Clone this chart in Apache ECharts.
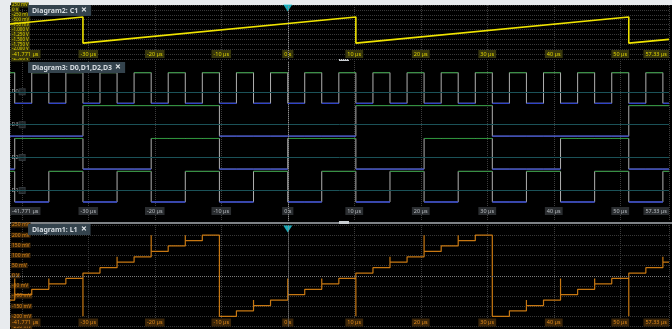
<!DOCTYPE html>
<html>
<head>
<meta charset="utf-8">
<script src="https://cdn.jsdelivr.net/npm/echarts@6.0.0/dist/echarts.min.js"></script>
<style>
html, body { margin: 0; padding: 0; background: #e8ebee; }
#panel { position: absolute; left: 10px; top: 5px; width: 662px; height: 324px; background: #000; }
#scope { position: absolute; left: 0; top: 0; width: 672px; height: 329px; }
</style>
</head>
<body>
<div id="panel"></div>
<div id="scope"></div>
<script>
var tMin = -41.771, tMax = 57.33;

// counter clock edges in µs
var edgeTimes = [-41.06, -38.50, -35.93, -33.37, -30.80, -28.24, -25.67, -23.11, -20.54, -17.98,
	-15.41, -12.85, -10.28, -7.72, -5.15, -2.59, 0.00, 2.55, 5.11, 7.68,
	10.24, 12.81, 15.37, 17.94, 20.50, 23.07, 25.63, 28.20, 30.76, 33.33,
	35.89, 38.46, 41.02, 43.59, 46.15, 48.72, 51.28, 53.85, 56.41];

// logic levels after each edge (value before first edge in *Start)
var d0Start = 1;
var d0Levels = [0,1,0,1,0,1,0,1,0,1,0,1,0,1,0,1,0,1,0,1,0,1,0,1,0,1,0,1,0,1,0,1,0,1,0,1,0,1,0];
var d1Start = 1;
var d1Levels = [0,0,1,1,0,0,1,1,0,0,1,1,0,0,1,1,0,0,1,1,0,0,1,1,0,0,1,1,0,0,1,1,0,0,1,1,0,0,1];
var d2Start = 0;
var d2Levels = [1,1,1,1,0,0,0,0,1,1,1,1,0,0,0,0,1,1,1,1,0,0,0,0,1,1,1,1,0,0,0,0,1,1,1,1,0,0,0];
var d3Start = 0;
var d3Levels = [0,0,0,0,1,1,1,1,1,1,1,1,0,0,0,0,0,0,0,0,1,1,1,1,1,1,1,1,0,0,0,0,0,0,0,0,1,1,1];

// L1 staircase (mV) and the short spikes seen at some edges
var l1Start = -120;
var l1Levels = [-93,-67,-40,-13,13,40,67,93,120,147,173,200,
	-200,-173,-147,-120,-93,-67,-40,-13,13,40,67,93,120,147,173,200,
	-200,-173,-147,-120,-93,-67,-40,-13,13,40,67];
var l1Glitch = [-13,null,-13,null,-200,null,93,null,200,null,200,null,
	null,null,-120,null,-13,null,-13,null,-200,null,93,null,200,null,200,null,
	null,null,-120,null,-13,null,-13,null,-200,null,93];

// C1 sawtooth corner points [µs, V]
var c1Points = [[-41.771, -0.72], [-30.80, -0.36], [-30.80, -1.69], [10.24, -0.36], [10.24, -1.69],
	[51.28, -0.36], [51.28, -1.69], [57.33, -1.50]];

var digitalRows = [
	{ name: 'D0', start: d0Start, levels: d0Levels, base: 3 },
	{ name: 'D3', start: d3Start, levels: d3Levels, base: 2 },
	{ name: 'D2', start: d2Start, levels: d2Levels, base: 1 },
	{ name: 'D1', start: d1Start, levels: d1Levels, base: 0 }
];

var myChart = echarts.init(document.getElementById('scope'));

function timeLabel(v) {
	if (Math.abs(v) < 1e-9) return '0 s';
	if (Math.abs(v - tMin) < 1e-6) return tMin.toFixed(3) + ' µs';
	if (Math.abs(v - tMax) < 1e-6) return tMax.toFixed(2) + ' µs';
	if (v === -40) return '';
	return v + ' µs';
}

function xAxisFor(grid, color, bg, margin) {
	return {
		type: 'value', gridIndex: grid, min: tMin, max: tMax, splitNumber: 10,
		axisLine: { show: false }, axisTick: { show: false },
		splitLine: { show: true, lineStyle: { color: '#3c3c3c', type: 'dotted' } },
		axisLabel: {
			inside: true, margin: margin, color: color, backgroundColor: bg,
			padding: [1, 2], fontSize: 5.5, fontFamily: 'Noto Sans',
			showMinLabel: true, showMaxLabel: true,
			alignMinLabel: 'left', alignMaxLabel: 'right',
			formatter: timeLabel
		}
	};
}

var series = [];

// C1
series.push({
	type: 'line', xAxisIndex: 0, yAxisIndex: 0, data: c1Points,
	showSymbol: false, lineStyle: { color: '#f0e400', width: 1.6 },
	markLine: {
		silent: true, symbol: 'none', label: { show: false },
		data: [{ xAxis: 0, lineStyle: { color: '#8c8c8c', type: 'dotted', width: 1 } }]
	}
});

// digital rows
digitalRows.forEach(function (row) {
	var hi = row.base + 0.93, lo = row.base;
	var lv = [row.start].concat(row.levels);
	var bounds = [tMin].concat(edgeTimes, [tMax]);
	var all = [[tMin, lv[0] ? hi : lo]], high = [], low = [];
	for (var i = 0; i < edgeTimes.length; i++) {
		all.push([edgeTimes[i], lv[i] ? hi : lo], [edgeTimes[i], lv[i + 1] ? hi : lo]);
	}
	all.push([tMax, lv[lv.length - 1] ? hi : lo]);
	for (var j = 0; j < lv.length; j++) {
		var seg = lv[j] ? high : low, y = lv[j] ? hi : lo;
		seg.push([bounds[j], y], [bounds[j + 1], y], [bounds[j + 1], '-']);
	}
	series.push({ type: 'line', xAxisIndex: 1, yAxisIndex: 1, data: all, showSymbol: false,
		lineStyle: { color: '#b0b0b0', width: 1 } });
	series.push({ type: 'line', xAxisIndex: 1, yAxisIndex: 1, data: high, showSymbol: false,
		connectNulls: false, lineStyle: { color: '#2a8f38', width: 1 } });
	series.push({ type: 'line', xAxisIndex: 1, yAxisIndex: 1, data: low, showSymbol: false,
		connectNulls: false, lineStyle: { color: '#2f42c8', width: 1.3 } });
});

series.push({
	type: 'scatter', xAxisIndex: 1, yAxisIndex: 1, symbolSize: 1, clip: false,
	itemStyle: { color: 'rgba(0,0,0,0)' },
	data: digitalRows.map(function (r) { return { name: r.name, value: [tMin, r.base + 0.35] }; }),
	label: {
		show: true, position: 'right', distance: 1, formatter: '{a|{b}}{b| }',
		rich: {
			a: { color: '#c4c8cc', fontSize: 5.5, fontFamily: 'Noto Sans', padding: [0, 1, 0, 0] },
			b: { backgroundColor: '#1c2326', borderColor: '#3d4448', borderWidth: 1, width: 5, height: 5 }
		}
	},
	markLine: {
		silent: true, symbol: 'none', label: { show: false },
		data: digitalRows.map(function (r) {
			return { yAxis: r.base + 0.35, lineStyle: { color: '#1b5258', type: 'solid', width: 1 } };
		}).concat([{ xAxis: 0, lineStyle: { color: '#8c8c8c', type: 'dotted', width: 1 } }])
	}
});

// L1
var l1Data = [[tMin, l1Start]];
var prev = l1Start;
for (var k = 0; k < edgeTimes.length; k++) {
	l1Data.push([edgeTimes[k], prev]);
	if (l1Glitch[k] !== null) l1Data.push([edgeTimes[k], l1Glitch[k]]);
	l1Data.push([edgeTimes[k], l1Levels[k]]);
	prev = l1Levels[k];
}
l1Data.push([tMax, prev]);
series.push({
	type: 'line', xAxisIndex: 2, yAxisIndex: 2, data: l1Data,
	showSymbol: false, lineStyle: { color: '#c87812', width: 1.2 },
	markLine: {
		silent: true, symbol: 'none', label: { show: false },
		data: [
			{ xAxis: 0, lineStyle: { color: '#8c8c8c', type: 'dotted', width: 1 } },
			{ yAxis: 0, lineStyle: { color: '#7a7a7a', type: 'dotted', width: 1 } }
		]
	}
});

// trigger markers
series.push({
	type: 'scatter', xAxisIndex: 0, yAxisIndex: 0, data: [[0, 0.25]], clip: false,
	symbol: 'triangle', symbolRotate: 180, symbolSize: [9, 7], symbolOffset: [0, 3],
	itemStyle: { color: '#22d4e6' }
});
series.push({
	type: 'scatter', xAxisIndex: 2, yAxisIndex: 2, data: [[0, 250]], clip: false,
	symbol: 'triangle', symbolRotate: 180, symbolSize: [9, 7], symbolOffset: [0, 4],
	itemStyle: { color: '#22d4e6' }
});

function titleBox(txt, top) {
	return {
		text: '{t|' + txt + '}{x|✕}', left: 28, top: top,
		backgroundColor: '#34434d', padding: [2, 4],
		textStyle: {
			rich: {
				t: { color: '#d6dce1', fontSize: 7, fontFamily: 'Noto Sans', padding: [0, 3, 0, 0] },
				x: { color: '#e8ecef', fontSize: 7, fontWeight: 'bold' }
			}
		}
	};
}

var option = {
	animation: false,
	title: [
		titleBox('Diagram2: C1', 5),
		titleBox('Diagram3: D0,D1,D2,D3', 62),
		titleBox('Diagram1: L1', 224)
	],
	grid: [
		{ left: 10, right: 0, top: 5, height: 54 },
		{ left: 10, right: 0, top: 61, height: 160 },
		{ left: 10, right: 0, top: 225, height: 105 }
	],
	xAxis: [
		xAxisFor(0, '#e2d600', '#37360c', 1),
		xAxisFor(1, '#b8bcc0', '#2a2d30', 6),
		xAxisFor(2, '#e08a1c', '#3b2508', 0)
	],
	yAxis: [
		{
			type: 'value', gridIndex: 0, min: -2.5, max: 0.25, interval: 0.25,
			axisLine: { show: false }, axisTick: { show: false },
			splitLine: { lineStyle: { color: '#383838', type: 'dotted' } },
			axisLabel: {
				inside: true, margin: 1, color: '#e2d600', backgroundColor: '#37360c',
				padding: [0, 1], fontSize: 4.5, fontFamily: 'Noto Sans',
				formatter: function (v) {
					if (Math.abs(v) < 1e-9) return '0 V';
					if (Math.abs(v) < 1) return Math.round(v * 1000) + ' mV';
					return v.toFixed(3) + ' V';
				}
			}
		},
		{
			type: 'value', gridIndex: 1, min: -0.578, max: 4.285,
			axisLine: { show: false }, axisTick: { show: false },
			splitLine: { show: false }, axisLabel: { show: false }
		},
		{
			type: 'value', gridIndex: 2, min: -250, max: 250, interval: 50,
			axisLine: { show: false }, axisTick: { show: false },
			splitLine: { lineStyle: { color: '#383838', type: 'dotted' } },
			axisLabel: {
				inside: true, margin: 1, color: '#e08a1c', backgroundColor: '#3b2508',
				padding: [0, 1], fontSize: 5, fontFamily: 'Noto Sans',
				formatter: function (v) { return v === 0 ? '0 V' : v + ' mV'; }
			}
		}
	],
	graphic: [
		{ type: 'rect', shape: { x: 10, y: 222, width: 662, height: 2 }, style: { fill: '#7e8286' } },
		{ type: 'rect', shape: { x: 339, y: 221, width: 10, height: 3 }, style: { fill: '#c9cdd1' } },
		{ type: 'rect', shape: { x: 339, y: 59, width: 10, height: 2 }, style: { fill: '#c9cdd1' } }
	],
	series: series
};

myChart.setOption(option);
</script>
</body>
</html>
